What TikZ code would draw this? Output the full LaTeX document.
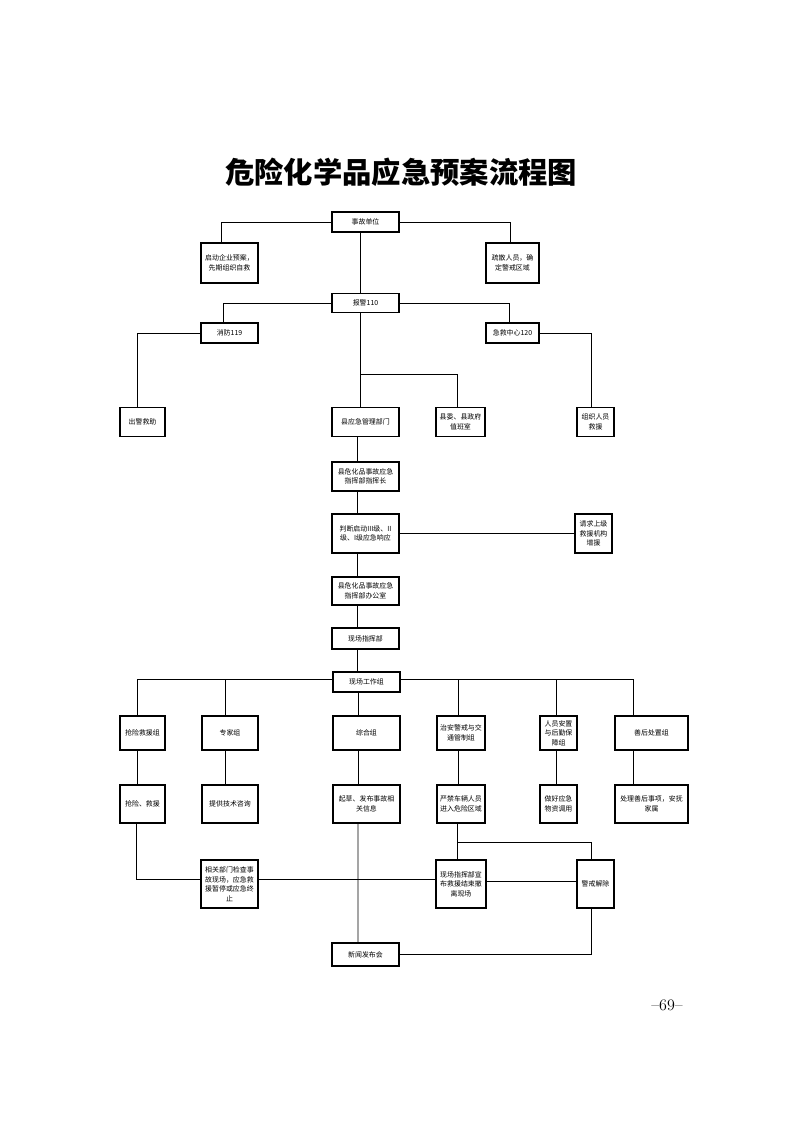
\documentclass[tikz,border=0pt]{standalone}
\usepackage{fontspec}
\newfontfamily\cjk{Noto Sans CJK SC}

\begin{document}
\begin{tikzpicture}[x=0.75pt, y=-0.75pt, line width=0.6pt,
  box/.style={draw, line width=0.9pt, inner sep=1pt, align=center, font=\cjk\fontsize{5.2}{7.2}\selectfont},
  sz/.style 2 args={minimum width=#1*0.75pt, minimum height=#2*0.75pt}]

		\useasboundingbox (0,0) rectangle (793,1122);

		\node[font=\cjk\bfseries\fontsize{22}{22}\selectfont] (title) at (401,172) {危险化学品应急预案流程图};

		% upper part
		\node[box, sz={67}{20}] (sgdw) at (365.5,222) {事故单位};
		\node[box, sz={57}{40}] (qdya) at (229.5,263) {启动企业预案，\\先期组织自救};
		\node[box, sz={53}{40}] (ssry) at (512.5,263) {疏散人员，确\\定警戒区域};
		\node[box, sz={67}{19}] (bj110) at (365.5,303) {报警110};
		\node[box, sz={57}{20}] (xf119) at (229.5,333) {消防119};
		\node[box, sz={53}{20}] (jjzx) at (512.5,333) {急救中心120};
		\node[box, sz={45}{29}] (cjjz) at (142.5,422) {出警救助};
		\node[box, sz={67}{29}] (xyj) at (365.5,422) {县应急管理部门};
		\node[box, sz={49}{29}] (xwzb) at (460.5,422) {县委、县政府\\值班室};
		\node[box, sz={37}{29}] (zzry) at (595.5,422) {组织人员\\救援};

		% command chain
		\node[box, sz={67}{29}] (zhz) at (365.5,476.5) {县危化品事故应急\\指挥部指挥长};
		\node[box, sz={67}{39}] (pdqd) at (365.5,533.5) {判断启动III级、II\\级、I级应急响应};
		\node[box, sz={37}{39}] (qqsj) at (593.5,533.5) {请求上级\\救援机构\\增援};
		\node[box, sz={67}{28}] (bgs) at (365.5,591) {县危化品事故应急\\指挥部办公室};
		\node[box, sz={67}{21}] (xczhb) at (365.5,638.5) {现场指挥部};
		\node[box, sz={67}{20}] (xcgz) at (366.5,682) {现场工作组};

		% working groups
		\node[box, sz={45}{34}] (qxjy) at (142.5,733) {抢险救援组};
		\node[box, sz={56}{34}] (zjz) at (230,733) {专家组};
		\node[box, sz={67}{34}] (zhhz) at (366.5,733) {综合组};
		\node[box, sz={48}{34}] (zajj) at (461,733) {治安警戒与交\\通管制组};
		\node[box, sz={37}{34}] (ryaz) at (558.5,733) {人员安置\\与后勤保\\障组};
		\node[box, sz={73}{34}] (shcz) at (651.5,733) {善后处置组};

		\node[box, sz={45}{38}] (qxjyb) at (142.5,804) {抢险、救援};
		\node[box, sz={56}{38}] (zjzb) at (230,804) {提供技术咨询};
		\node[box, sz={67}{38}] (zhhzb) at (366.5,804) {起草、发布事故相\\关信息};
		\node[box, sz={48}{38}] (zajjb) at (461,804) {严禁车辆人员\\进入危险区域};
		\node[box, sz={37}{38}] (ryazb) at (558.5,804) {做好应急\\物资调用};
		\node[box, sz={73}{38}] (shczb) at (651.5,804) {处理善后事项，安抚\\家属};

		% ending
		\node[box, sz={57}{48}] (xgbm) at (229.5,884) {相关部门检查事\\故现场，应急救\\援暂停或应急终\\止};
		\node[box, sz={50}{48}] (xcxb) at (461,884) {现场指挥部宣\\布救援结束撤\\离现场};
		\node[box, sz={37}{48}] (jjjc) at (595.5,884) {警戒解除};
		\node[box, sz={67}{23}] (xwfb) at (365.5,954.5) {新闻发布会};

		\node[font=\fontsize{12}{12}\selectfont] (pnum) at (667,1005) {--69--};

		\coordinate (fork1) at (360,374);
		\coordinate (fork2) at (457,842);

		\draw (sgdw.west) -| ([xshift=-6.4pt]qdya.north);
		\draw (sgdw.east) -| ([xshift=-1.9pt]ssry.north);
		\draw ([xshift=-4pt]sgdw.south) -- ([xshift=-4pt]bj110.north);
		\draw (bj110.west) -| ([xshift=-4.9pt]xf119.north);
		\draw (bj110.east) -| ([xshift=-2.6pt]jjzx.north);
		\draw ([xshift=-4pt]bj110.south) -- ([xshift=-4pt]xyj.north);
		\draw (fork1) -| ([xshift=-2.6pt]xwzb.north);
		\draw (xf119.west) -| ([xshift=-4.1pt]cjjz.north);
		\draw (jjzx.east) -| ([xshift=-3.4pt]zzry.north);

		\draw ([xshift=-6pt]xyj.south) -- ([xshift=-6pt]zhz.north);
		\draw ([xshift=-6pt]zhz.south) -- ([xshift=-6pt]pdqd.north);
		\draw ([xshift=-6pt]pdqd.south) -- ([xshift=-6pt]bgs.north);
		\draw ([xshift=-6pt]bgs.south) -- ([xshift=-6pt]xczhb.north);
		\draw ([xshift=-6pt]xczhb.south) -- ([xshift=-6.8pt]xcgz.north);
		\draw (pdqd.east) -- (qqsj.west);

		\draw ([yshift=2pt]xcgz.west) -| ([xshift=-4.1pt]qxjy.north);
		\draw ([yshift=2pt]xcgz.west) -| ([xshift=-3.7pt]zjz.north);
		\draw ([xshift=-6.4pt]xcgz.south) -- ([xshift=-6.4pt]zhhz.north);
		\draw ([yshift=2pt]xcgz.east) -| ([xshift=-2.2pt]zajj.north);
		\draw ([yshift=2pt]xcgz.east) -| ([xshift=-1.9pt]ryaz.north);
		\draw ([yshift=2pt]xcgz.east) -| ([xshift=-13.9pt]shcz.north);

		\draw ([xshift=-4.1pt]qxjy.south) -- ([xshift=-4.1pt]qxjyb.north);
		\draw ([xshift=-3.7pt]zjz.south) -- ([xshift=-3.7pt]zjzb.north);
		\draw ([xshift=-6.4pt]zhhz.south) -- ([xshift=-6.4pt]zhhzb.north);
		\draw ([xshift=-2.2pt]zajj.south) -- ([xshift=-2.2pt]zajjb.north);
		\draw ([xshift=-1.9pt]ryaz.south) -- ([xshift=-1.9pt]ryazb.north);
		\draw ([xshift=-13.9pt]shcz.south) -- ([xshift=-13.9pt]shczb.north);

		\draw ([xshift=-4.9pt]qxjyb.south) |- ([yshift=3.7pt]xgbm.west);
		\draw ([yshift=3.7pt]xgbm.east) -- ([yshift=3.7pt]xcxb.west);
		\draw ([xshift=-6.4pt]zhhzb.south) -- ([xshift=-5.6pt]xwfb.north);
		\draw ([xshift=-3pt]zajjb.south) -- ([xshift=-3pt]xcxb.north);
		\draw (fork2) -| ([xshift=-3.4pt]jjjc.north);
		\draw ([yshift=2.2pt]xcxb.east) -- ([yshift=2.2pt]jjjc.west);
		\draw ([xshift=-3.4pt]jjjc.south) |- (xwfb.east);

		\end{tikzpicture}
\end{document}
